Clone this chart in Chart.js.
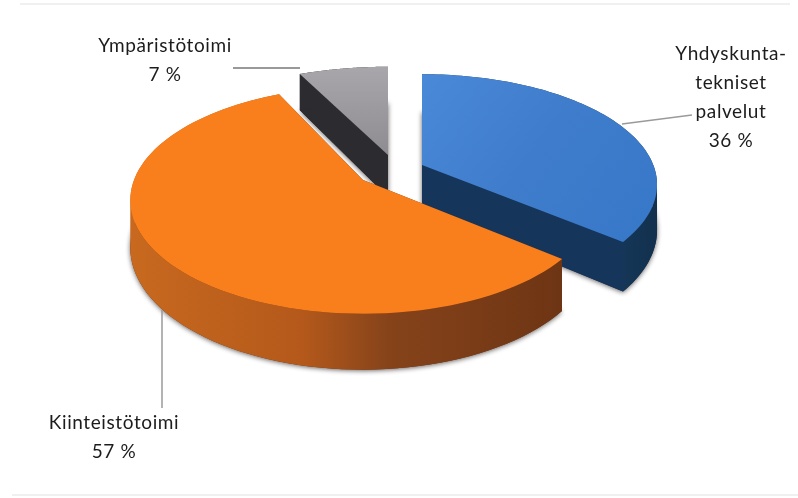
<!DOCTYPE html>
<html>
<head>
<meta charset="utf-8">
<style>
html, body { margin: 0; padding: 0; background: #fff; }
#wrap { width: 798px; height: 498px; }
</style>
<script src="https://cdn.jsdelivr.net/npm/chart.js@4"></script>
</head>
<body>
<div id="wrap"><canvas id="myChart" width="798" height="498"></canvas></div>
<script>
// data
const categories = ['Yhdyskunta-tekniset palvelut', 'Kiinteistötoimi', 'Ympäristötoimi']
const values = [36, 57, 7]
const labelLines = [['Yhdyskunta-', 'tekniset', 'palvelut'], ['Kiinteistötoimi'], ['Ympäristötoimi']]

// where each exploded slice sits and how the tilted view stretches it
const tilt = 0.178
const radius = 229
const apexX = [422, 363, 388]
const apexY = [165, 180, 155]
const stretchX = [1.01, 1, 1.05]
const stretchY = [0.467, 0.48, 0.454]
const depth = [44, 46, 42]
const labelX = [731, 114, 165]
const labelY = [60, 429, 52]
const leaders = [[[622, 124], [692, 115], '#9a9a9a'], [[162, 310], [162, 408], '#9a9a9a'], [[233, 68], [300, 68], '#777']]

function project(i, angle, extra) {
    const u = Math.cos(angle)
    const v = Math.sin(angle)
    const w = 1 - tilt * v
    return {
        x: apexX[i] + u * radius * stretchX[i] / w,
        y: apexY[i] + (v * radius * stretchY[i] + extra) / w
    }
}

function quad(ctx, a, b, c, d) {
    ctx.moveTo(a.x, a.y)
    ctx.lineTo(b.x, b.y)
    ctx.lineTo(c.x, c.y)
    ctx.lineTo(d.x, d.y)
    ctx.closePath()
}

function hGrad(ctx, x0, x1, stops) {
    const g = ctx.createLinearGradient(x0, 0, x1, 0)
    stops.forEach(s => g.addColorStop(s[0], s[1]))
    return g
}

function drawSlice(ctx, arc, i) {
    const a0 = arc.startAngle
    const a1 = arc.endAngle
    const steps = 90
    const d = depth[i]
    const top = []
    const low = []
    for (let s = 0; s <= steps; s++) {
        const a = a0 + (a1 - a0) * s / steps
        top.push(project(i, a, 0))
        low.push(project(i, a, d))
    }
    const apex = { x: apexX[i], y: apexY[i] }
    const apexLow = { x: apexX[i], y: apexY[i] + d }

    const wallFill = [
        hGrad(ctx, 420, 660, [[0, '#16355a'], [0.7, '#183c60'], [1, '#12304d']]),
        hGrad(ctx, 130, 560, [[0, '#c8691f'], [0.4, '#b4591b'], [0.6, '#86431a'], [1, '#6e3514']]),
        '#2b2b30'
    ][i]
    const cutFill = ['#16355a', '#6e3514', '#2b2b30'][i]

    // soft dark rim under the slice
    ctx.save()
    ctx.shadowColor = 'rgba(50,40,40,0.75)'
    ctx.shadowBlur = 5
    ctx.shadowOffsetY = 1
    ctx.fillStyle = cutFill
    ctx.beginPath()
    ctx.moveTo(apexLow.x, apexLow.y)
    low.forEach(p => ctx.lineTo(p.x, p.y))
    ctx.closePath()
    ctx.fill()
    ctx.restore()

    ctx.fillStyle = cutFill
    ctx.beginPath()
    quad(ctx, apex, top[0], low[0], apexLow)
    ctx.fill()
    ctx.fillStyle = i === 2 ? '#77767a' : cutFill
    ctx.beginPath()
    quad(ctx, apex, top[steps], low[steps], apexLow)
    ctx.fill()

    // outer wall as one path so no seams show between the steps
    ctx.fillStyle = wallFill
    ctx.beginPath()
    for (let s = 0; s < steps; s++) {
        const flip = top[s + 1].x < top[s].x
        if (flip) quad(ctx, top[s], top[s + 1], low[s + 1], low[s])
        else quad(ctx, low[s], low[s + 1], top[s + 1], top[s])
    }
    ctx.fill()

    let face
    if (i === 0) {
        face = ctx.createLinearGradient(422, 75, 640, 240)
        face.addColorStop(0, '#4a88d8')
        face.addColorStop(0.5, '#3f7dcc')
        face.addColorStop(1, '#3878c8')
    } else if (i === 1) {
        face = '#f97f1d'
    } else {
        face = ctx.createLinearGradient(0, 68, 0, 155)
        face.addColorStop(0, '#a8a6aa')
        face.addColorStop(1, '#8e8c90')
    }
    ctx.fillStyle = face
    ctx.beginPath()
    ctx.moveTo(apex.x, apex.y)
    top.forEach(p => ctx.lineTo(p.x, p.y))
    ctx.closePath()
    ctx.fill()
}

const tiltedPie = {
    id: 'tiltedPie',
    beforeDatasetDraw(chart, args) {
        const ctx = chart.ctx
        const arcs = args.meta.data
        // back slice first, front slice last
        ctx.save()
        ;[2, 0, 1].forEach(i => drawSlice(ctx, arcs[i], i))
        ctx.restore()
        return false
    },
    afterDraw(chart) {
        const ctx = chart.ctx
        ctx.save()
        // faint scan lines at the top and bottom of the page
        ctx.strokeStyle = 'rgba(170,170,170,0.18)'
        ctx.lineWidth = 2
        ctx.beginPath()
        ctx.moveTo(20, 4)
        ctx.lineTo(790, 4)
        ctx.moveTo(12, 495)
        ctx.lineTo(798, 495)
        ctx.stroke()

        ctx.lineWidth = 1.5
        leaders.forEach(l => {
            ctx.strokeStyle = l[2]
            ctx.beginPath()
            ctx.moveTo(l[0][0], l[0][1])
            ctx.lineTo(l[1][0], l[1][1])
            ctx.stroke()
        })

        ctx.fillStyle = '#1c1c1c'
        ctx.font = '19px Lato'
        ctx.textAlign = 'center'
        ctx.textBaseline = 'alphabetic'
        ctx.letterSpacing = '0.6px'
        labelLines.forEach((lines, i) => {
            lines.concat(values[i] + ' %').forEach((t, n) => {
                ctx.fillText(t, labelX[i], labelY[i] + n * 29)
            })
        })
        ctx.restore()
    }
}

const ctx = document.getElementById('myChart')
new Chart(ctx, {
    type: 'pie',
    data: {
        labels: categories,
        datasets: [{
            data: values,
            borderWidth: 0,
            radius: radius
        }]
    },
    options: {
        responsive: false,
        animation: false,
        plugins: {
            legend: { display: false },
            tooltip: { enabled: false }
        }
    },
    plugins: [tiltedPie]
})
</script>
</body>
</html>
